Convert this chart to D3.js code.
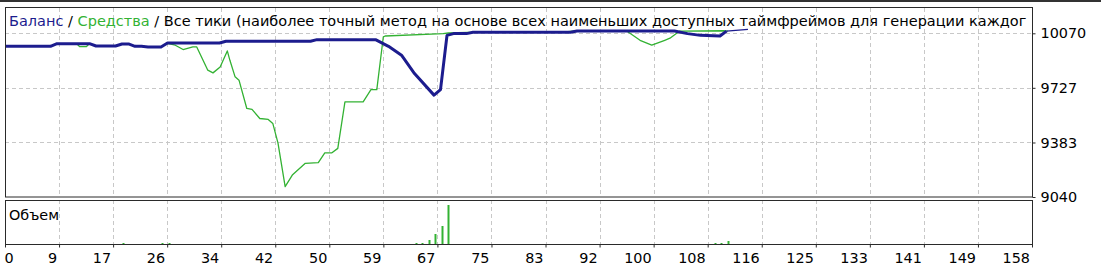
<!DOCTYPE html>
<html><head><meta charset="utf-8">
<script src="https://cdn.jsdelivr.net/npm/d3@7/dist/d3.min.js"></script>
<style>
body{margin:0;background:#fff;}
svg{display:block;}
text{font-family:"DejaVu Sans",sans-serif;font-size:14.4px;fill:#000;}
</style>
</head><body>
<svg id="c" width="1101" height="271"></svg>
<script>
// ---- data (trade number, account value) ----
const balanceTrade = [0,7,8,13,14,17,18,19,20,21,22,24,25,33,34,47,48,57,59,61,63,66,67,68,69,71,72,87,88,103,105,107,110,111,114.3];
const balanceValue = [9988,9988,10005,10005,9990,9990,10003,10003,9988,9988,9984,9984,10009,10009,10020,10020,10030,10030,9988,9932,9817,9681,9716,10057,10068,10068,10076,10076,10084,10084,10068,10057,10053,10084,10095];

const equityTrade = [0,7,8,11,11.5,12.5,13,14,17,18,19,20,21,22,24,25,26.2,27.4,28.9,29.5,31.2,32,33.1,34.2,34.6,35.4,36,37.2,38,39.2,40.5,41.2,42,43.1,44.2,46.2,48.2,49.2,50.3,51.2,52.3,55.1,56.3,57.2,58.2,58.5,67.4,68.2,71.2,85.4,87.4,95.7,97.7,99.5,101.5,102.3,103.8,110.5,111.2];
const equityValue = [9988,9988,10005,10005,9986,9986,10005,9990,9990,10003,10003,9988,9988,9984,9984,10007,9995,9968,9984,9984,9838,9821,9858,9959,9900,9796,9775,9597,9591,9534,9528,9503,9379,9105,9178,9252,9256,9318,9318,9346,9639,9639,9716,9716,10047,10053,10068,10072,10076,10076,10083,10083,10026,9995,10026,10039,10084,10086,10084];

const volumeTrade = [18,24,25,63,64,65,66,67,68,109,110,111];
const volumeValue = [0.01,0.01,0.01,0.01,0.01,0.04,0.10,0.18,0.39,0.01,0.01,0.03];

const xTickLabels = ["0","9","17","26","34","42","50","59","67","75","83","92","100","108","116","125","133","141","149","158"];
const yTickValues = [10070,9727,9383,9040];

// title as shown (cut off at the panel edge in the reference)
const titleParts = ["Баланс"," / ","Средства"," / Все тики (наиболее точный метод на основе всех наименьших доступных таймфреймов для генерации каждог"];
const volumeLabel = "Объем";

// ---- layout ----
const L=5, R=1032, T=7.5, B=197, VT=200, VB=244;
const BLUE="#1c1c8e", GREEN="#33b233", GRID="#c8c8c8", FRAME="#2a2a2a";

const svg = d3.select("#c");
const x = d3.scaleLinear().domain([0,158]).range([L,R]);
const y = d3.scaleLinear().domain([9040,10070]).range([B,33.3]);
const yv = d3.scaleLinear().domain([0,0.44]).range([VB,VT]);
const xTickPos = xTickLabels.map((d,i)=> i*158/(xTickLabels.length-1));

// window top line
svg.append("line").attr("x1",0).attr("x2",1101).attr("y1",1).attr("y2",1)
  .attr("stroke","#333").attr("stroke-width",2);

svg.append("defs").append("clipPath").attr("id","mainclip")
  .append("rect").attr("x",L).attr("y",T).attr("width",R-L-1).attr("height",B-T);

// gridlines
const grid = svg.append("g").attr("stroke",GRID).attr("stroke-dasharray","4,3").attr("shape-rendering","crispEdges");
xTickPos.slice(1,-1).forEach(t=>{
  const px = Math.round(x(t))+0.5;
  grid.append("line").attr("x1",px).attr("x2",px).attr("y1",T).attr("y2",B);
  grid.append("line").attr("x1",px).attr("x2",px).attr("y1",VT).attr("y2",VB);
});
yTickValues.slice(0,-1).forEach(v=>{
  const py = Math.round(y(v))+0.5;
  grid.append("line").attr("x1",L).attr("x2",R).attr("y1",py).attr("y2",py);
});

// lines
const lineGen = d3.line().x(d=>x(d[0])).y(d=>y(d[1]));
const equity = equityTrade.map((t,i)=>[t,equityValue[i]]);
const balance = balanceTrade.map((t,i)=>[t,balanceValue[i]]);
const plot = svg.append("g").attr("clip-path","url(#mainclip)");
plot.append("path").datum(equity).attr("d",lineGen)
  .attr("fill","none").attr("stroke",GREEN).attr("stroke-width",1.3).attr("stroke-linejoin","round");
plot.append("path").datum(balance.slice(0,-1)).attr("d",lineGen)
  .attr("fill","none").attr("stroke",BLUE).attr("stroke-width",3).attr("stroke-linejoin","round");
plot.append("path").datum(balance.slice(-2)).attr("d",lineGen)
  .attr("fill","none").attr("stroke",BLUE).attr("stroke-width",1.2);

// title
const title = plot.append("text").attr("x",9).attr("y",26).style("font-size","14.5px");
const titleColors=[BLUE,"#000",GREEN,"#000"];
titleParts.forEach((s,i)=> title.append("tspan").text(s).style("fill",titleColors[i]));

// volume bars
svg.append("g").selectAll("line").data(volumeTrade).join("line")
  .attr("x1",t=>Math.round(x(t))+1.5).attr("x2",t=>Math.round(x(t))+1.5)
  .attr("y1",yv(0)).attr("y2",(t,i)=>yv(volumeValue[i]))
  .attr("stroke",GREEN).attr("stroke-width",2);

svg.append("text").attr("x",9).attr("y",220).text(volumeLabel);

// frames
svg.append("rect").attr("x",L+0.5).attr("y",T).attr("width",R-L).attr("height",B-T)
  .attr("fill","none").attr("stroke",FRAME);
svg.append("rect").attr("x",L+0.5).attr("y",VT+0.5).attr("width",R-L).attr("height",VB-VT)
  .attr("fill","none").attr("stroke",FRAME);

// right axis
const ay = svg.append("g").attr("transform",`translate(${R+0.5},0)`)
  .call(d3.axisRight(y).tickValues(yTickValues).tickSize(3).tickPadding(5).tickFormat(d3.format("d")));
ay.select(".domain").remove();
ay.selectAll("text").style("font-family","DejaVu Sans").style("font-size","14.4px").attr("fill","#000");
ay.selectAll("line").attr("stroke",FRAME);

// bottom axis
const ax = svg.append("g").attr("transform",`translate(0,${VB+0.5})`)
  .call(d3.axisBottom(x).tickValues(xTickPos).tickSize(3).tickFormat((d,i)=>xTickLabels[i]));
ax.select(".domain").remove();
ax.selectAll("line").attr("stroke",FRAME);
ax.selectAll("text").style("font-family","DejaVu Sans").style("font-size","14.4px").attr("fill","#000")
  .attr("y",18.5).attr("dy",0)
  .attr("text-anchor",(d,i)=> i===0 ? "start" : "end")
  .attr("x",(d,i)=> i===0 ? -1 : -2.5);
</script>
</body></html>
